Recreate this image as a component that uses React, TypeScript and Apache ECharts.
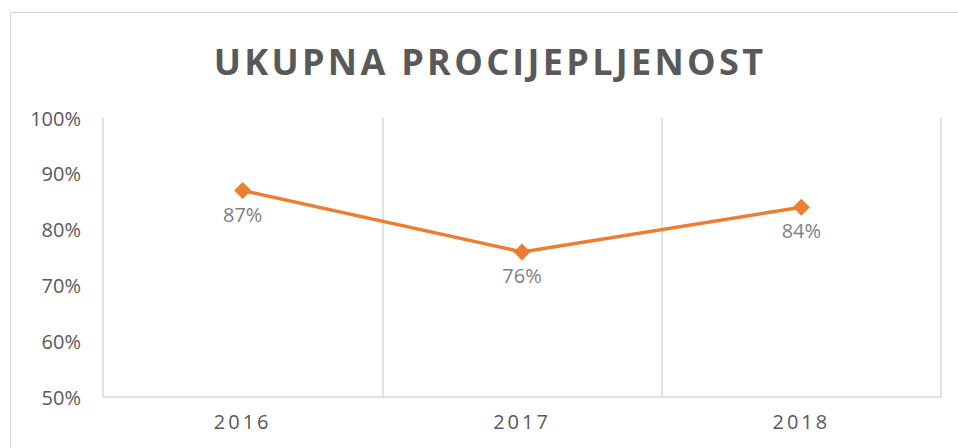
import React, { useEffect, useRef } from "react";
import * as echarts from "echarts";

const titleText = "UKUPNA PROCIJEPLJENOST";
const years = ["2016", "2017", "2018"];
const coverage = [87, 76, 84];
const yMin = 50;
const yMax = 100;
const yStep = 10;

export default function App() {
  const ref = useRef<HTMLDivElement>(null);
  useEffect(() => {
    if (!ref.current) return;
    const chart = echarts.init(ref.current, null, { renderer: "svg" });
    chart.setOption({
      animation: false,
      backgroundColor: "#ffffff",
      graphic: [
        {
          type: "rect",
          shape: { x: 10.5, y: 12.5, width: 960, height: 460 },
          style: { fill: "none", stroke: "#d9d9d9", lineWidth: 1 },
          silent: true,
        },
      ],
      title: {
        text: titleText,
        left: 485,
        top: 38,
        textAlign: "center",
        textStyle: {
          fontFamily: "Open Sans",
          fontWeight: "bold",
          fontSize: 36,
          color: "#595959",
        },
      },
      grid: { left: 103, right: 17, top: 118, bottom: 51 },
      xAxis: {
        type: "category",
        data: years,
        boundaryGap: true,
        axisLine: { show: true, lineStyle: { color: "#d9d9d9", width: 1.5 } },
        axisTick: { show: false },
        splitLine: { show: true, lineStyle: { color: "#d9d9d9", width: 1.5 } },
        axisLabel: {
          fontFamily: "Open Sans",
          fontSize: 20,
          color: "#595959",
          margin: 14,
        },
      },
      yAxis: {
        type: "value",
        min: yMin,
        max: yMax,
        interval: yStep,
        axisLine: { show: false },
        axisTick: { show: false },
        splitLine: { show: false },
        axisLabel: {
          formatter: "{value}%",
          fontFamily: "Open Sans",
          fontSize: 20,
          color: "#595959",
          margin: 22,
        },
      },
      series: [
        {
          type: "line",
          data: coverage,
          symbol: "diamond",
          symbolSize: 17,
          itemStyle: { color: "#ED7D31" },
          lineStyle: { color: "#ED7D31", width: 3.5 },
          label: {
            show: true,
            position: "bottom",
            distance: 5,
            formatter: "{c}%",
            fontFamily: "Open Sans",
            fontSize: 20,
            color: "#7f7f7f",
          },
        },
      ],
    });
    const texts = ref.current.querySelectorAll("text");
    texts.forEach((t) => {
      const s = t.textContent || "";
      if (s === titleText) {
        (t as SVGTextElement).style.letterSpacing = "3.3px";
      } else if (years.includes(s)) {
        (t as SVGTextElement).style.letterSpacing = "3px";
      }
    });
    return () => chart.dispose();
  }, []);
  return (
    <div
      ref={ref}
      style={{ position: "fixed", left: 0, top: 0, width: 958, height: 448 }}
    />
  );
}
